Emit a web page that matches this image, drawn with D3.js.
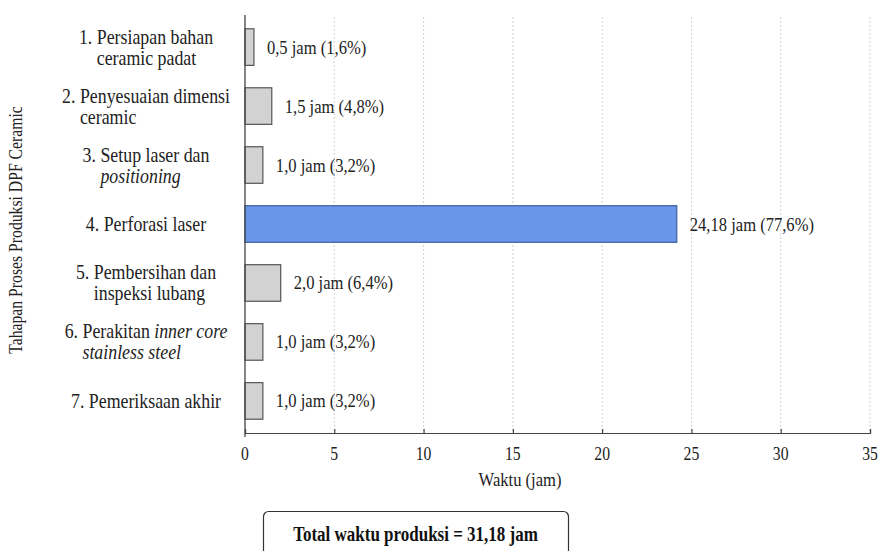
<!DOCTYPE html>
<html>
<head>
<meta charset="utf-8">
<script src="https://cdn.jsdelivr.net/npm/d3@7/dist/d3.min.js"></script>
<style>
  html, body { margin: 0; padding: 0; background: #fff; }
  svg text { font-family: "Liberation Serif", "Times New Roman", serif; }
</style>
</head>
<body>
<svg id="chart" width="880" height="551"></svg>
<script>
// Production stages (lines of each label; *text* = italic)
const stageLines = [
  ["1. Persiapan bahan", "ceramic padat"],
  ["2. Penyesuaian dimensi", "ceramic"],
  ["3. Setup laser dan", "*positioning*"],
  ["4. Perforasi laser"],
  ["5. Pembersihan dan", "inspeksi lubang"],
  ["6. Perakitan *inner core*", "*stainless steel*"],
  ["7. Pemeriksaan akhir"]
];
const hours = [0.5, 1.5, 1.0, 24.18, 2.0, 1.0, 1.0];
const hourLabels = ["0,5", "1,5", "1,0", "24,18", "2,0", "1,0", "1,0"];
const percentLabels = ["1,6%", "4,8%", "3,2%", "77,6%", "6,4%", "3,2%", "3,2%"];
const highlightIndex = 3;
const xTicks = [0, 5, 10, 15, 20, 25, 30, 35];
const totalLabel = "Total waktu produksi = 31,18 jam";

const FONT = "Liberation Serif";
const SQUEEZE = 0.85;   // narrow serif look
const svg = d3.select("#chart").attr("font-family", FONT);
const plot = { left: 245, right: 870, top: 15, bottom: 433 };

const x = d3.scaleLinear().domain([0, 35]).range([plot.left, plot.right]);
const y = d3.scaleBand().domain(d3.range(hours.length))
  .range([plot.top + 2, plot.bottom - 2]).paddingInner(0.38).paddingOuter(0.2);

// text placed at (px, py), condensed horizontally
function label(parent, px, py, size, anchor) {
  return parent.append("g")
    .attr("transform", `translate(${px},${py}) scale(${SQUEEZE},1)`)
    .append("text")
    .attr("font-family", FONT).attr("font-size", size)
    .attr("text-anchor", anchor || "start").attr("fill", "#222");
}

// dotted vertical gridlines
svg.append("g").selectAll("line").data(xTicks.slice(1)).join("line")
  .attr("x1", d => x(d)).attr("x2", d => x(d))
  .attr("y1", plot.top + 2).attr("y2", plot.bottom)
  .attr("stroke", "#c8c8c8").attr("stroke-width", 0.8)
  .attr("stroke-dasharray", "2,2");

// bars
svg.append("g").selectAll("rect").data(hours).join("rect")
  .attr("x", x(0))
  .attr("y", (d, i) => y(i))
  .attr("width", d => x(d) - x(0))
  .attr("height", y.bandwidth())
  .attr("fill", (d, i) => i === highlightIndex ? "#6a96ea" : "#d2d2d2")
  .attr("stroke", (d, i) => i === highlightIndex ? "#3e5f9c" : "#555")
  .attr("stroke-width", 1.2);

// value labels
const valG = svg.append("g");
hours.forEach((d, i) => {
  label(valG, x(d) + 13, y(i) + y.bandwidth() / 2 + 6.5, 19.5)
    .text(`${hourLabels[i]} jam (${percentLabels[i]})`);
});

// x axis (line + ticks from d3, labels condensed)
const xAxis = d3.axisBottom(x).tickValues(xTicks).tickSize(-4).tickFormat("");
const gx = svg.append("g").attr("transform", `translate(0,${plot.bottom})`).call(xAxis);
gx.select(".domain").attr("stroke", "#444").attr("stroke-width", 1.2);
gx.selectAll(".tick line").attr("stroke", "#444").attr("stroke-width", 1.2);
const tickG = svg.append("g");
xTicks.forEach(t => {
  label(tickG, x(t), plot.bottom + 27, 18.5, "middle").text(d3.format("d")(t));
});

// y axis line
svg.append("line")
  .attr("x1", plot.left).attr("x2", plot.left)
  .attr("y1", plot.top).attr("y2", plot.bottom + 4)
  .attr("stroke", "#444").attr("stroke-width", 1.3);

// category labels: first line centred, continuation line hanging-indented
function addRich(textSel, str) {
  str.split(/(\*[^*]+\*)/).filter(s => s.length).forEach(part => {
    const italic = part.startsWith("*");
    textSel.append("tspan")
      .attr("font-family", FONT)
      .attr("font-style", italic ? "italic" : "normal")
      .text(italic ? part.slice(1, -1) : part);
  });
}
const labelCenter = 146;
const catSize = 21;
const catG = svg.append("g");
stageLines.forEach((lines, i) => {
  const cy = y(i) + y.bandwidth() / 2;
  const lh = 21;
  const y0 = cy - (lines.length - 1) * lh / 2 + 7;
  const t1 = label(catG, labelCenter, y0, catSize, "middle");
  addRich(t1, lines[0]);
  if (lines.length > 1) {
    const w1 = t1.node().getComputedTextLength() * SQUEEZE;
    const num = lines[0].match(/^\d+\.\s/)[0];
    const probe = label(catG, 0, 0, catSize).text(num.replace(" ", "\u00a0"));
    const indent = probe.node().getComputedTextLength() * SQUEEZE;
    probe.node().parentNode.remove();
    const t2 = label(catG, labelCenter - w1 / 2 + indent, y0 + lh, catSize);
    addRich(t2, lines[1]);
  }
});

// axis titles
svg.append("g")
  .attr("transform", `translate(22,${230}) rotate(-90) scale(${SQUEEZE},1)`)
  .append("text")
  .attr("text-anchor", "middle").attr("font-size", 18.5).attr("fill", "#222")
  .attr("font-family", FONT)
  .text("Tahapan Proses Produksi DPF Ceramic");

label(svg, 520, 486, 19.5, "middle").text("Waktu (jam)");

// total box
svg.append("rect")
  .attr("x", 263.5).attr("y", 511.5).attr("width", 305).attr("height", 46)
  .attr("rx", 5).attr("fill", "#fff").attr("stroke", "#333").attr("stroke-width", 1.2);
label(svg, 415.5, 541, 20, "middle")
  .attr("font-weight", "bold").attr("fill", "#111")
  .text(totalLabel);
</script>
</body>
</html>
